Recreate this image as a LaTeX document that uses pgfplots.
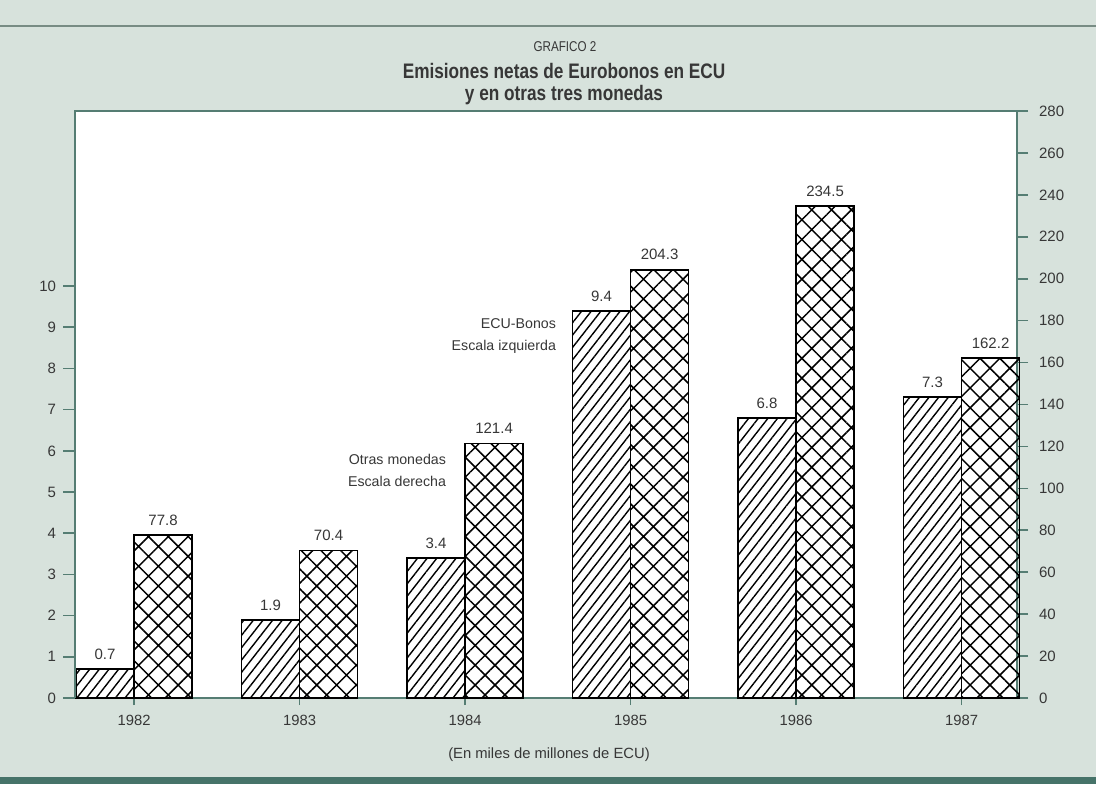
\documentclass[border=0pt]{standalone}
\usepackage{fontspec}
\setmainfont{Liberation Sans}
\newfontfamily\condfont[FakeStretch=0.82]{Liberation Sans}
\usepackage{pgfplots}
\pgfplotsset{compat=1.18}
\usetikzlibrary{patterns.meta}
\definecolor{bgc}{RGB}{215,226,220}
\definecolor{axc}{RGB}{85,125,115}
\definecolor{txc}{RGB}{55,55,55}
\definecolor{topc}{RGB}{120,140,132}
\definecolor{botc}{RGB}{70,115,105}

\pgfplotstableread{
x ecu
0 0.7
1 1.9
2 3.4
3 9.4
4 6.8
5 7.3
}\ecutable
\pgfplotstableread{
x otras
0 77.8
1 70.4
2 121.4
3 204.3
4 234.5
5 162.2
}\otrastable

\begin{document}
\begin{tikzpicture}[x=1pt,y=1pt]
\fill[bgc] (0,0) rectangle (548,392);
\useasboundingbox (0,0) rectangle (548,392);
\draw[line width=1.2pt, topc] (0,379) -- (548,379);
\fill[botc] (0,0) rectangle (548,3.5);

% titles
\node[text=txc, font=\condfont\fontsize{7.1}{8.5}\selectfont] at (282.5,368.5) {GRAFICO 2};
\node[text=txc, font=\condfont\bfseries\fontsize{10.5}{12}\selectfont] at (282,356.5) {Emisiones netas de Eurobonos en ECU};
\node[text=txc, font=\condfont\bfseries\fontsize{10.5}{12}\selectfont] at (282,344.5) {y en otras tres monedas};

% main axis: box, x ticks, ECU bars (left scale)
\begin{axis}[
  at={(37.5pt,43pt)}, anchor=south west,
  scale only axis, width=471pt, height=293.5pt,
  xmin=-0.357, xmax=5.335, ymin=0, ymax=14.25,
  axis background/.style={fill=white},
  axis line style={axc, line width=0.9pt},
  ytick=\empty,
  xtick={0,...,5}, xticklabels={1982,1983,1984,1985,1986,1987},
  xtick pos=bottom, tick align=outside, major tick length=3.5pt,
  tick style={axc, line width=0.8pt},
  xticklabel style={font=\fontsize{7.4}{9}\selectfont, text=txc, yshift=-1.5pt},
  /pgf/number format/assume math mode=true,
  clip=false,
]
\addplot[ybar, bar width=29pt, bar shift=-14.5pt, draw=black, line width=0.9pt,
  pattern={Lines[angle=52,distance=3.8pt,line width=0.7pt]}, pattern color=black,
  nodes near coords={\pgfmathprintnumber[fixed,fixed zerofill,precision=1]{\pgfplotspointmeta}},
  every node near coord/.append style={font=\fontsize{7.5}{9}\selectfont, text=txc, anchor=south, yshift=1pt, xshift=-14.5pt}]
  table[x=x, y=ecu] {\ecutable};
\end{axis}

% left y ticks
\begin{axis}[
  at={(37.5pt,43pt)}, anchor=south west,
  scale only axis, width=471pt, height=293.5pt,
  xmin=-0.357, xmax=5.335, ymin=0, ymax=14.25,
  axis y line*=left, axis x line=none,
  axis line style={axc, line width=0.9pt},
  ytick={0,...,10}, tick align=outside, major tick length=6pt,
  tick style={axc, line width=0.8pt},
  yticklabel style={font=\fontsize{7.5}{9}\selectfont, text=txc},
  /pgf/number format/assume math mode=true,
]
\end{axis}

% right axis: other currencies
\begin{axis}[
  at={(37.5pt,43pt)}, anchor=south west,
  scale only axis, width=471pt, height=293.5pt,
  xmin=-0.357, xmax=5.335, ymin=0, ymax=280,
  axis y line*=right, axis x line=none,
  axis line style={axc, line width=0.9pt},
  ytick={0,20,...,280}, tick align=outside, major tick length=5.5pt,
  tick style={axc, line width=0.8pt},
  yticklabel style={font=\fontsize{7.5}{9}\selectfont, text=txc, xshift=2pt},
  /pgf/number format/assume math mode=true,
  clip=false,
]
\addplot[ybar, bar width=29pt, bar shift=14.5pt, draw=black, line width=0.9pt,
  pattern={Hatch[angle=45,distance=7pt,line width=0.75pt]}, pattern color=black,
  nodes near coords={\pgfmathprintnumber[fixed,fixed zerofill,precision=1]{\pgfplotspointmeta}},
  every node near coord/.append style={font=\fontsize{7.5}{9}\selectfont, text=txc, anchor=south, yshift=1pt, xshift=14.5pt}]
  table[x=x, y=otras] {\otrastable};
\end{axis}

% annotations
\node[anchor=east, text=txc, font=\fontsize{7.1}{9}\selectfont] at (281.5,230) {ECU-Bonos};
\node[anchor=east, text=txc, font=\fontsize{7.1}{9}\selectfont] at (281.5,218.5) {Escala izquierda};
\node[anchor=east, text=txc, font=\fontsize{7.1}{9}\selectfont] at (226.5,162.5) {Otras monedas};
\node[anchor=east, text=txc, font=\fontsize{7.1}{9}\selectfont] at (226.5,151.5) {Escala derecha};
\node[text=txc, font=\fontsize{7.4}{9}\selectfont] at (274.5,14.5) {(En miles de millones de ECU)};
\end{tikzpicture}
\end{document}
